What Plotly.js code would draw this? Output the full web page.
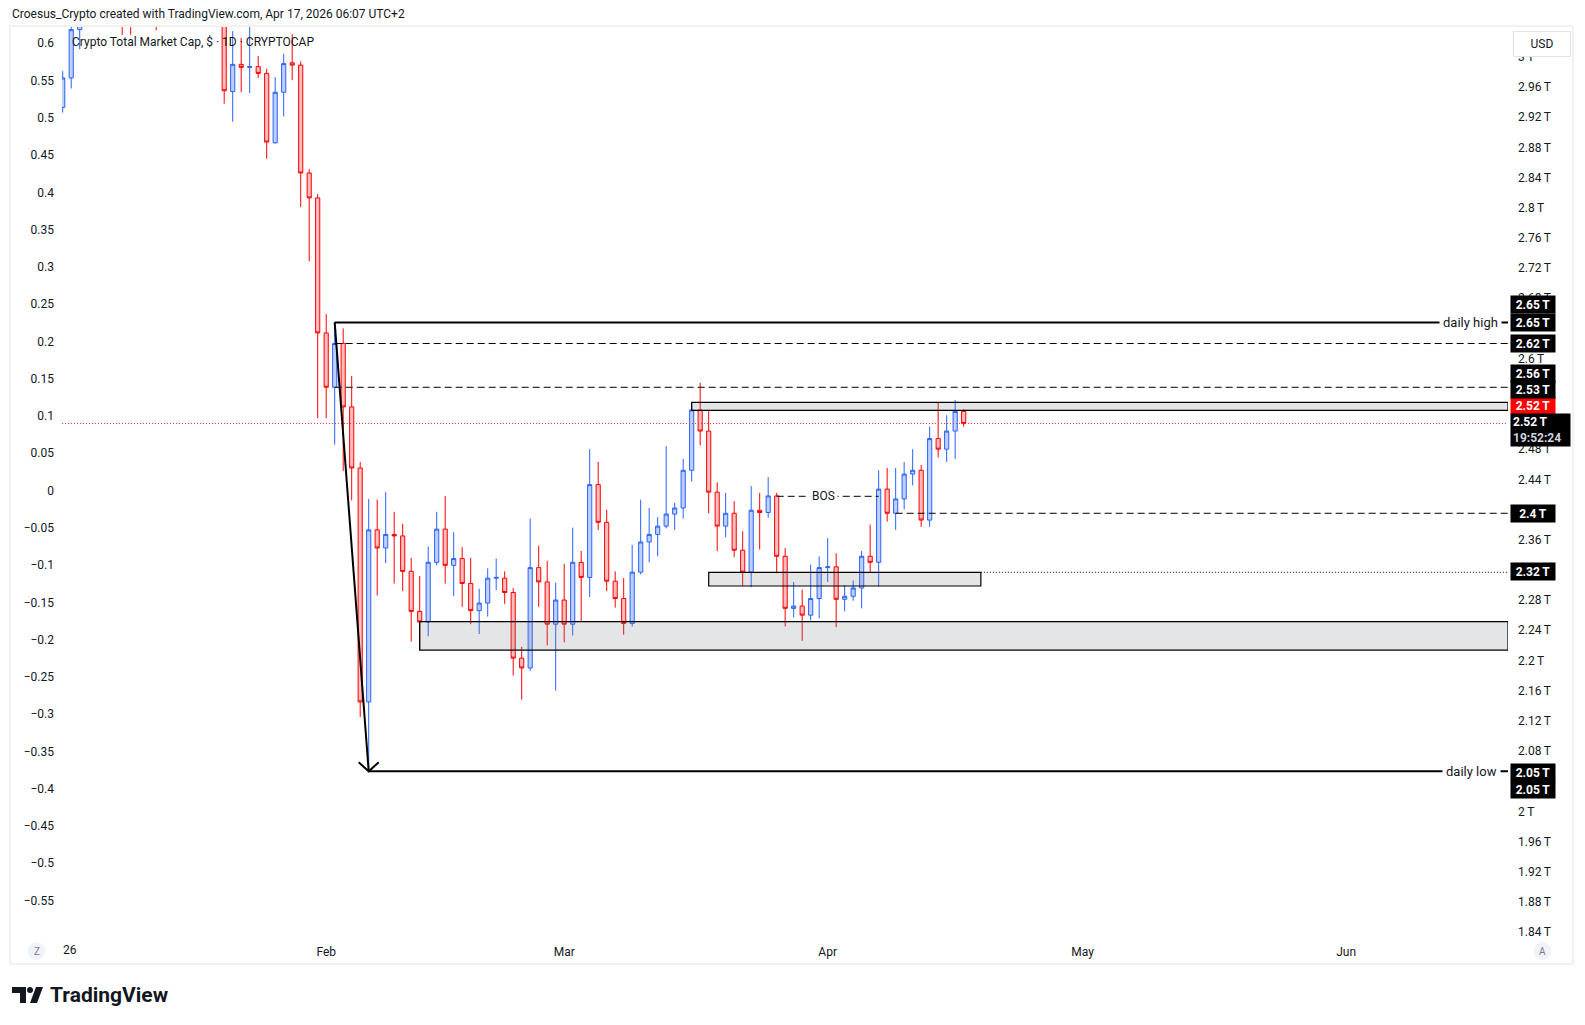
<!DOCTYPE html>
<html><head><meta charset="utf-8">
<script src="https://cdn.plot.ly/plotly-3.0.1.min.js"></script>
<style>html,body{margin:0;padding:0;background:#fff;} #chart{width:1585px;height:1025px;}</style>
</head><body><div id="chart"></div>
<script>
// ---------------- DATA ----------------
const dates = [
'2026-01-01','2026-01-02','2026-01-03','2026-01-04','2026-01-05','2026-01-06','2026-01-07','2026-01-08','2026-01-09','2026-01-10',
'2026-01-11','2026-01-12','2026-01-13','2026-01-14','2026-01-15','2026-01-16','2026-01-17','2026-01-18','2026-01-19','2026-01-20',
'2026-01-21','2026-01-22','2026-01-23','2026-01-24','2026-01-25','2026-01-26','2026-01-27','2026-01-28','2026-01-29','2026-01-30','2026-01-31',
'2026-02-01','2026-02-02','2026-02-03','2026-02-04','2026-02-05','2026-02-06','2026-02-07','2026-02-08','2026-02-09','2026-02-10',
'2026-02-11','2026-02-12','2026-02-13','2026-02-14','2026-02-15','2026-02-16','2026-02-17','2026-02-18','2026-02-19','2026-02-20',
'2026-02-21','2026-02-22','2026-02-23','2026-02-24','2026-02-25','2026-02-26','2026-02-27','2026-02-28',
'2026-03-01','2026-03-02','2026-03-03','2026-03-04','2026-03-05','2026-03-06','2026-03-07','2026-03-08','2026-03-09','2026-03-10',
'2026-03-11','2026-03-12','2026-03-13','2026-03-14','2026-03-15','2026-03-16','2026-03-17','2026-03-18','2026-03-19','2026-03-20',
'2026-03-21','2026-03-22','2026-03-23','2026-03-24','2026-03-25','2026-03-26','2026-03-27','2026-03-28','2026-03-29','2026-03-30','2026-03-31',
'2026-04-01','2026-04-02','2026-04-03','2026-04-04','2026-04-05','2026-04-06','2026-04-07','2026-04-08','2026-04-09','2026-04-10',
'2026-04-11','2026-04-12','2026-04-13','2026-04-14','2026-04-15','2026-04-16','2026-04-17'
];
// values in trillions USD
const openT = [
2.933,2.972,3.036,3.080,3.100,3.150,3.130,3.120,3.070,3.060,
3.090,3.110,3.080,3.170,3.200,3.160,3.150,3.160,3.120,3.070,
2.954,2.990,2.986,2.987,2.978,2.886,2.953,2.992,2.989,2.846,2.813,
2.634,2.562,2.620,2.536,2.455,2.145,2.373,2.349,2.367,2.365,
2.318,2.265,2.251,2.330,2.374,2.326,2.335,2.302,2.266,2.276,
2.309,2.309,2.290,2.203,2.190,2.323,2.304,2.248,
2.280,2.248,2.330,2.310,2.433,2.383,2.305,2.282,2.249,2.317,
2.357,2.367,2.378,2.394,2.402,2.452,2.532,2.504,2.423,2.378,
2.395,2.346,2.317,2.399,2.396,2.418,2.338,2.269,2.272,2.260,2.282,
2.323,2.324,2.281,2.285,2.296,2.338,2.330,2.427,2.395,2.414,
2.447,2.452,2.386,2.494,2.480,2.504,2.530
];
const highT = [
2.981,3.050,3.090,3.110,3.160,3.180,3.150,3.130,3.090,3.100,
3.120,3.120,3.180,3.220,3.210,3.180,3.170,3.170,3.130,3.080,
3.034,3.025,3.060,3.001,2.984,2.973,3.004,3.030,2.994,2.851,2.818,
2.659,2.648,2.640,2.577,2.463,2.414,2.413,2.423,2.397,2.381,
2.336,2.312,2.351,2.397,2.418,2.370,2.350,2.336,2.295,2.322,
2.335,2.318,2.296,2.218,2.388,2.352,2.332,2.303,
2.328,2.376,2.345,2.480,2.463,2.400,2.318,2.309,2.353,2.413,
2.402,2.390,2.484,2.409,2.467,2.542,2.568,2.532,2.436,2.422,
2.411,2.371,2.431,2.422,2.443,2.422,2.349,2.304,2.294,2.327,2.338,
2.362,2.342,2.300,2.306,2.345,2.380,2.452,2.455,2.455,2.463,
2.480,2.459,2.510,2.542,2.525,2.545,2.533
];
const lowT = [
2.926,2.958,3.010,3.060,3.090,3.110,3.080,3.029,3.029,3.050,
3.070,3.035,3.070,3.150,3.140,3.130,3.130,3.110,3.050,2.938,
2.914,2.953,2.952,2.972,2.865,2.885,2.921,2.969,2.801,2.729,2.521,
2.521,2.486,2.451,2.412,2.125,2.053,2.286,2.329,2.302,2.292,
2.225,2.214,2.232,2.326,2.302,2.285,2.271,2.248,2.235,2.258,
2.293,2.275,2.180,2.148,2.186,2.271,2.220,2.160,
2.224,2.233,2.252,2.284,2.373,2.292,2.270,2.234,2.245,2.314,
2.330,2.338,2.375,2.373,2.388,2.437,2.485,2.395,2.345,2.363,
2.337,2.299,2.297,2.347,2.389,2.317,2.245,2.257,2.226,2.253,2.256,
2.304,2.244,2.265,2.279,2.269,2.316,2.298,2.384,2.373,2.400,
2.432,2.377,2.377,2.469,2.463,2.467,2.510
];
const closeT = [
2.972,3.036,3.080,3.100,3.150,3.130,3.120,3.070,3.060,3.090,
3.110,3.080,3.170,3.200,3.160,3.150,3.160,3.120,3.070,2.955,
2.990,2.986,2.987,2.978,2.887,2.953,2.991,2.989,2.846,2.813,2.634,
2.562,2.620,2.536,2.455,2.145,2.373,2.349,2.367,2.365,2.318,
2.265,2.251,2.330,2.374,2.326,2.335,2.302,2.266,2.276,2.309,
2.310,2.290,2.203,2.190,2.323,2.304,2.248,2.280,
2.248,2.330,2.310,2.433,2.383,2.305,2.282,2.249,2.317,2.357,
2.367,2.378,2.394,2.402,2.452,2.532,2.504,2.423,2.378,2.395,
2.346,2.317,2.399,2.396,2.418,2.338,2.269,2.272,2.260,2.282,2.323,
2.324,2.281,2.285,2.296,2.338,2.330,2.427,2.395,2.414,2.447,
2.452,2.386,2.494,2.480,2.504,2.530,2.514
];

// drawn levels (T)
const dailyHigh = 2.648, dailyLow = 2.053;
const dashLevelA = 2.620, dashLevelB = 2.562, bosLevel = 2.4175, dashLevelC = 2.395, dotLevel = 2.3168;
const lastClose = 2.514;
const topBox = [2.5315, 2.5421], midBox = [2.2986, 2.3168], lowBox = [2.2137, 2.2513];

// axis ticks (those fully hidden behind price labels in the reference are omitted)
const rightTicks = [1.84,1.88,1.92,1.96,2.00,2.08,2.12,2.16,2.20,2.24,2.28,2.36,2.44,2.48,2.60,2.68,2.72,2.76,2.80,2.84,2.88,2.92,2.96,3.00];
const rightTickText = ['1.84','1.88','1.92','1.96','2','2.08','2.12','2.16','2.2','2.24','2.28','2.36','2.44','2.48','2.6','2.68','2.72','2.76','2.8','2.84','2.88','2.92','2.96','3'].map(s => s + '\u2009T');
const leftTicks = [0.6,0.55,0.5,0.45,0.4,0.35,0.3,0.25,0.2,0.15,0.1,0.05,0,-0.05,-0.1,-0.15,-0.2,-0.25,-0.3,-0.35,-0.4,-0.45,-0.5,-0.55];
const leftTickText = ['0.6','0.55','0.5','0.45','0.4','0.35','0.3','0.25','0.2','0.15','0.1','0.05','0','\u22120.05','\u22120.1','\u22120.15','\u22120.2','\u22120.25','\u22120.3','\u22120.35','\u22120.4','\u22120.45','\u22120.5','\u22120.55'];
const monthTicks = ['2026-02-01','2026-03-01','2026-04-01','2026-05-01','2026-06-01'];
const monthTickText = ['Feb','Mar','Apr','May','Jun'];

// right-scale labels
const scaleLabels = [
  {t:'2.65\u2009T', y:2.6711}, {t:'2.65\u2009T', y:2.6479}, {t:'2.62\u2009T', y:2.6198},
  {t:'2.56\u2009T', y:2.5809}, {t:'2.53\u2009T', y:2.5597},
  {t:'2.4\u2009T', y:2.3947}, {t:'2.32\u2009T', y:2.3172},
  {t:'2.05\u2009T', y:2.0521}, {t:'2.05\u2009T', y:2.0289}
];

// ---------------- LAYOUT ----------------
const L = 62, R = 1508, T = 27, B = 938;
const px = x => (x - L) / (R - L);
const py = y => (B - y) / (B - T);
const X_START = '2025-12-31 22:00', X_END = '2026-06-20 01:00';
const FONT = 'Roboto, "Liberation Sans", Arial, sans-serif';
const TXT = '#131722';

const traces = [
  {
    type: 'candlestick', x: dates, open: openT, high: highT, low: lowT, close: closeT,
    increasing: {line: {color: '#2962FF', width: 1}, fillcolor: 'rgba(41,98,255,0.3)'},
    decreasing: {line: {color: '#FF0000', width: 1}, fillcolor: 'rgba(255,0,0,0.26)'},
    whiskerwidth: 0, hoverinfo: 'skip', showlegend: false
  },
  {type: 'scatter', x: [], y: [], yaxis: 'y2', showlegend: false, hoverinfo: 'skip'}
];

function hline(x0, x1, y, dash, w, color) {
  return {type: 'line', xref: 'x', yref: 'y', x0: x0, x1: x1, y0: y, y1: y,
          line: {color: color || '#000', width: w || 1, dash: dash || 'solid'}};
}
function box(x0, x1, yy) {
  return {type: 'rect', xref: 'x', yref: 'y', x0: x0, x1: x1, y0: yy[0], y1: yy[1],
          fillcolor: 'rgba(120,123,134,0.2)', line: {color: '#000', width: 1.2}};
}
const DASH = '7px,4px';
const shapes = [
  // frame
  {type: 'rect', xref: 'paper', yref: 'paper', x0: px(10), x1: px(1573), y0: py(964), y1: py(26), line: {color: '#e0e3eb', width: 1}, layer: 'below'},
  // current price
  hline(X_START, X_END, lastClose, '1px,2px', 1, '#f23645'),
  box('2026-03-16', X_END, topBox),
  box('2026-03-18', '2026-04-19 00:30', midBox),
  box('2026-02-12', X_END, lowBox),
  hline('2026-02-02', X_END, dashLevelA, DASH, 1),
  hline('2026-02-02', X_END, dashLevelB, DASH, 1),
  hline('2026-03-26', '2026-04-07', bosLevel, DASH, 1),
  hline('2026-04-09', X_END, dashLevelC, DASH, 1),
  hline('2026-04-19 00:30', X_END, dotLevel, '1px,2px', 1),
  hline('2026-02-02', X_END, dailyHigh, 'solid', 2),
  hline('2026-02-06', X_END, dailyLow, 'solid', 2),
  {type: 'line', xref: 'x', yref: 'y', x0: '2026-02-02', y0: dailyHigh, x1: '2026-02-06', y1: dailyLow, line: {color: '#000', width: 2}},
  {type: 'path', xref: 'x', yref: 'y', xsizemode: 'pixel', ysizemode: 'pixel', xanchor: '2026-02-06', yanchor: dailyLow,
   path: 'M-10,9 L0,0 L10,9', line: {color: '#000', width: 2}},
  // Z / A buttons
  {type: 'circle', xref: 'paper', yref: 'paper', xsizemode: 'pixel', ysizemode: 'pixel', xanchor: px(36.5), yanchor: py(951),
   x0: -9, x1: 9, y0: -9, y1: 9, fillcolor: '#f0f3fa', line: {width: 0}},
  {type: 'circle', xref: 'paper', yref: 'paper', xsizemode: 'pixel', ysizemode: 'pixel', xanchor: px(1542.5), yanchor: py(951),
   x0: -9, x1: 9, y0: -9, y1: 9, fillcolor: '#f0f3fa', line: {width: 0}},
  // TradingView logo
  {type: 'path', xref: 'paper', yref: 'paper', xsizemode: 'pixel', ysizemode: 'pixel', xanchor: px(12), yanchor: py(1003),
   path: 'M0,16 L14,16 L14,0 L8,0 L8,10 L0,10 Z', fillcolor: TXT, line: {width: 0}},
  {type: 'circle', xref: 'paper', yref: 'paper', xsizemode: 'pixel', ysizemode: 'pixel', xanchor: px(12), yanchor: py(1003),
   x0: 15, x1: 21, y0: 10, y1: 16, fillcolor: TXT, line: {width: 0}},
  {type: 'path', xref: 'paper', yref: 'paper', xsizemode: 'pixel', ysizemode: 'pixel', xanchor: px(12), yanchor: py(1003),
   path: 'M18,0 L25,0 L31,16 L24,16 Z', fillcolor: TXT, line: {width: 0}}
];

const annotations = [
  {xref: 'paper', yref: 'paper', x: px(10), y: py(14), xanchor: 'left', yanchor: 'middle', showarrow: false,
   text: 'Croesus_Crypto created with TradingView.com, Apr 17, 2026 06:07 UTC+2', font: {family: FONT, size: 12, color: TXT}},
  {xref: 'paper', yref: 'paper', x: px(70), y: py(42), xanchor: 'left', yanchor: 'middle', showarrow: false,
   text: 'Crypto Total Market Cap, $ \u00b7 1D \u00b7 CRYPTOCAP', font: {family: FONT, size: 12, color: TXT}},
  {xref: 'paper', yref: 'y', x: px(1470), y: dailyHigh, xanchor: 'center', yanchor: 'middle', showarrow: false,
   text: 'daily high', bgcolor: '#fff', borderpad: 3, font: {family: FONT, size: 13, color: TXT}},
  {xref: 'paper', yref: 'y', x: px(1471), y: dailyLow, xanchor: 'center', yanchor: 'middle', showarrow: false,
   text: 'daily low', bgcolor: '#fff', borderpad: 3, font: {family: FONT, size: 13, color: TXT}},
  {xref: 'paper', yref: 'y', x: px(823), y: bosLevel, xanchor: 'center', yanchor: 'middle', showarrow: false,
   text: 'BOS', bgcolor: '#fff', borderpad: 2, font: {family: FONT, size: 12, color: TXT}},
  {xref: 'paper', yref: 'paper', x: px(70), y: py(950), xanchor: 'center', yanchor: 'middle', showarrow: false,
   text: '26', font: {family: FONT, size: 12, color: TXT}},
  {xref: 'paper', yref: 'paper', x: px(36.5), y: py(951), xanchor: 'center', yanchor: 'middle', showarrow: false,
   text: 'Z', font: {family: FONT, size: 10, color: '#787b86'}},
  {xref: 'paper', yref: 'paper', x: px(1542.5), y: py(951), xanchor: 'center', yanchor: 'middle', showarrow: false,
   text: 'A', font: {family: FONT, size: 10, color: '#787b86'}},
  {xref: 'paper', yref: 'paper', x: px(48), y: py(995), xanchor: 'left', yanchor: 'middle', showarrow: false,
   text: 'TradingView', font: {family: FONT, size: 21, color: TXT, weight: 'bold'}},
  {xref: 'paper', yref: 'paper', x: px(1513), y: py(43.5), xanchor: 'left', yanchor: 'middle', showarrow: false,
   text: 'USD', bgcolor: '#fff', bordercolor: '#e0e3eb', borderwidth: 1, borderpad: 4, width: 48, height: 16,
   font: {family: FONT, size: 12, color: TXT}},
  // red last price label
  {xref: 'paper', yref: 'y', x: px(1510), y: 2.5372, xanchor: 'left', yanchor: 'middle', showarrow: false,
   text: '2.52\u2009T', bgcolor: '#ff0000', borderpad: 1, width: 42, height: 15,
   font: {family: FONT, size: 12, color: '#fff', weight: 'bold'}},
  // countdown label
  {xref: 'paper', yref: 'y', x: px(1510), y: 2.5050, xanchor: 'left', yanchor: 'middle', showarrow: false, align: 'left',
   text: '2.52\u2009T<br><span style="color:#d1d4dc">19:52:24</span>', bgcolor: '#000', borderpad: 2, width: 55, height: 28,
   font: {family: FONT, size: 12, color: '#fff', weight: 'bold'}}
];
scaleLabels.forEach(l => annotations.push({
  xref: 'paper', yref: 'y', x: px(1510), y: l.y, xanchor: 'left', yanchor: 'middle', showarrow: false,
  text: l.t, bgcolor: '#000', borderpad: 1, width: 42, height: 15,
  font: {family: FONT, size: 12, color: '#fff', weight: 'bold'}
}));

const layout = {
  width: 1585, height: 1025,
  margin: {l: L, r: 1585 - R, t: T, b: 1025 - B, pad: 0},
  paper_bgcolor: '#fff', plot_bgcolor: '#fff', showlegend: false,
  font: {family: FONT, size: 12, color: TXT},
  xaxis: {type: 'date', range: [X_START, X_END], rangeslider: {visible: false}, showgrid: false, zeroline: false,
          showline: false, ticks: '', tickmode: 'array', tickvals: monthTicks, ticktext: monthTickText,
          ticklabelstandoff: 5, tickfont: {family: FONT, size: 12, color: TXT}, fixedrange: true},
  yaxis: {side: 'right', range: [1.8321, 3.0395], tickmode: 'array', tickvals: rightTicks, ticktext: rightTickText,
          showgrid: false, zeroline: false, showline: false, ticks: '', ticklabelstandoff: 9,
          tickfont: {family: FONT, size: 12, color: TXT}},
  yaxis2: {overlaying: 'y', side: 'left', range: [-0.6003, 0.6218], tickmode: 'array', tickvals: leftTicks, ticktext: leftTickText,
           showgrid: false, zeroline: false, showline: false, ticks: '', ticklabelstandoff: 7,
           tickfont: {family: FONT, size: 12, color: TXT}},
  shapes: shapes, annotations: annotations
};

Plotly.newPlot('chart', traces, layout, {displayModeBar: false, staticPlot: true});
</script></body></html>
